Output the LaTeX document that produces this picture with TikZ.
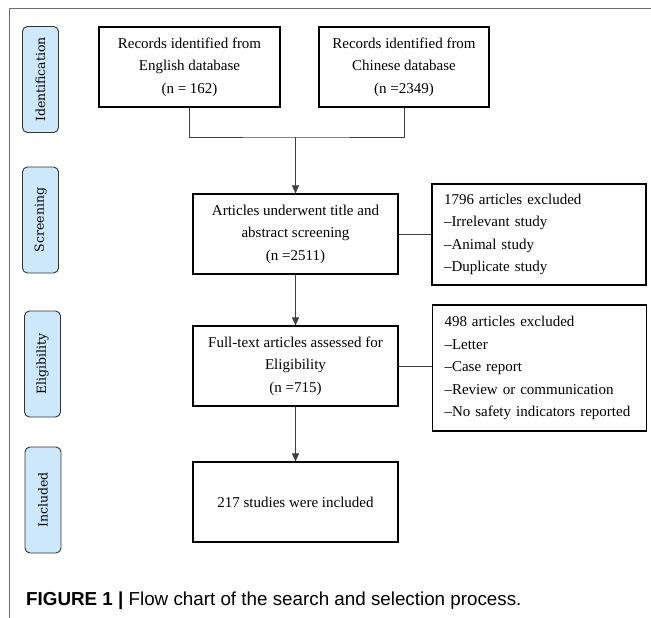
\documentclass[tikz,border=0pt]{standalone}
\usepackage{fontspec}
\setmainfont{Liberation Serif}
\newfontfamily\stagefont{DejaVu Serif}
\newfontfamily\capfont{Liberation Sans}
\usetikzlibrary{positioning,arrows.meta}
\definecolor{stageblue}{RGB}{204,232,250}
\definecolor{framegray}{RGB}{110,110,110}

\begin{document}
\begin{tikzpicture}[x=1pt,y=-1pt,
    box/.style={rectangle, draw, line width=1.1pt, align=center, minimum width=205pt, minimum height=80pt, font=\fontsize{15}{22.5}\selectfont},
    excl/.style={rectangle, draw, line width=1.1pt, align=left, text width=190pt, inner xsep=12pt, font=\fontsize{15}{22.5}\selectfont},
    stage/.style={rectangle, rounded corners=5pt, draw=black!80, line width=0.9pt, fill=stageblue, minimum width=36pt, minimum height=106pt, font=\stagefont\fontsize{12.5}{14}\selectfont},
    link/.style={draw=black!75, line width=0.9pt},
    arr/.style={link, -{Triangle[width=7pt,length=8pt]}}]
            \useasboundingbox (0,0) rectangle (651,618);
            % Frame
            \draw[framegray, line width=0.8pt] (9,618) -- (9,8) -- (651,8);
            % Stages
            \node[stage] (ident) at (40.5,79.5) {\rotatebox{90}{Identification}};
            \node[stage] (screenlab) at (40.5,220) {\rotatebox{90}{Screening}};
            \node[stage] (eliglab) at (42.5,364) {\rotatebox{90}{Eligibility}};
            \node[stage] (incllab) at (43,500) {\rotatebox{90}{Included}};
            % Records
            \node[box, minimum width=181pt] (english) at (189.5,67) {Records identified from\\English database\\(n = 162)};
            \node[box, minimum width=170pt] (chinese) at (404,67) {Records identified from\\Chinese database\\(n =2349)};
            \coordinate (merge) at (295.5,137);
            % Main column
            \node[box] (screen) at (295.5,234) {Articles underwent title and\\abstract screening\\(n =2511)};
            \node[box] (elig) at (295.5,366) {Full-text articles assessed for\\Eligibility\\(n =715)};
            \node[box] (incl) at (295.5,502) {217 studies were included};
            % Exclusions
            \node[excl, minimum height=101pt] (excla) at (539,234.5) {1796 articles excluded\\--Irrelevant study\\--Animal study\\--Duplicate study};
            \node[excl, minimum height=126pt] (exclb) at (539.5,368) {498 articles excluded\\--Letter\\--Case report\\--Review or communication\\--No safety indicators reported};

            \draw[link] (english.south) |- (merge) -| (chinese.south);
            \draw[arr] (merge) -- (screen.north);
            \draw[arr] (screen) -- (elig);
            \draw[arr] (elig) -- (incl);

            \draw[link] (screen.east) -- (screen.east -| excla.west);
            \draw[link] (elig.east) -- (elig.east -| exclb.west);

            % Caption
            \node[anchor=base west, inner sep=0pt, font=\capfont\fontsize{18.8}{22}\selectfont] (caption) at (26,605) {\textbf{FIGURE 1 |} Flow chart of the search and selection process.};
        \end{tikzpicture}
\end{document}
